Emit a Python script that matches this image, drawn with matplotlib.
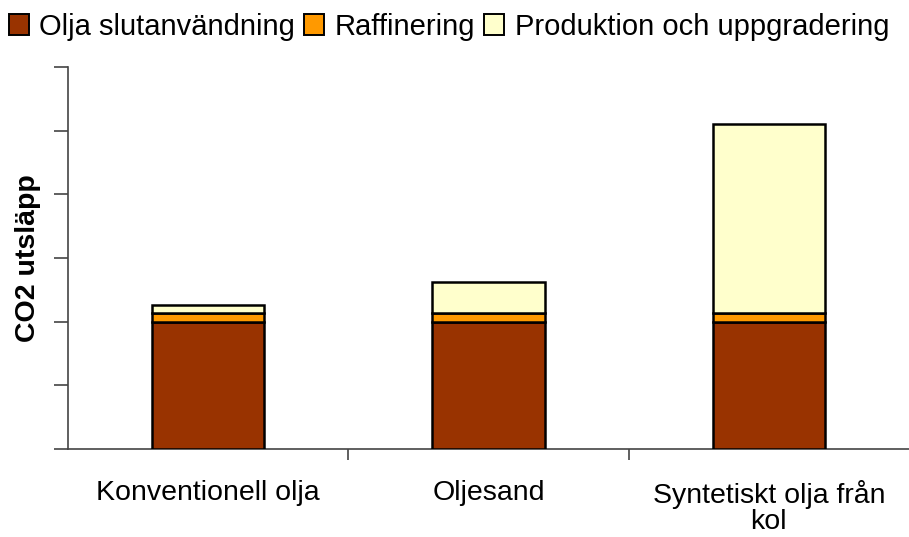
import numpy as np
import matplotlib
matplotlib.use("Agg")
import matplotlib.pyplot as plt
from matplotlib.patches import Patch

plt.rcParams["font.family"] = ["Liberation Sans", "DejaVu Sans"]

categories = ["Konventionell olja", "Oljesand", "Syntetiskt olja från\nkol"]
series_names = ["Olja slutanvändning", "Raffinering", "Produktion och uppgradering"]
slutanvandning = [2.0, 2.0, 2.0]
raffinering = [0.13, 0.13, 0.13]
produktion = [0.13, 0.50, 2.98]
colors = ["#993300", "#FF9900", "#FFFFCC"]

fig = plt.figure(figsize=(9.09, 5.37), dpi=100)
ax = fig.add_axes([68 / 909, 1 - 449 / 537, 1 - 68 / 909, (449 - 67) / 537])

x = np.arange(len(categories))
bottom = np.zeros(len(categories))
for vals, col in zip([slutanvandning, raffinering, produktion], colors):
    ax.bar(x, vals, 0.4, bottom=bottom, color=col, edgecolor="black",
           linewidth=1.8, zorder=3)
    bottom += np.array(vals)

ax.set_xlim(-0.5, 2.5)
ax.set_ylim(0, 6)

# y: ticks utan etiketter
ax.set_yticks(np.arange(0, 7))
ax.set_yticklabels([])
ax.tick_params(axis="y", length=10, width=1.2, color="#444444")

# x: ticks mellan kategorierna, etiketter i mitten
ax.set_xticks([0.5, 1.5])
ax.set_xticklabels([])
ax.set_xticks(x, minor=True)
ax.set_xticklabels(categories, minor=True, fontsize=20.5, linespacing=1.0)
ax.tick_params(axis="x", which="major", length=8, width=1.2, color="#444444")
ax.tick_params(axis="x", which="minor", length=0, pad=22)

for s in ["top", "right"]:
    ax.spines[s].set_visible(False)
for s in ["left", "bottom"]:
    ax.spines[s].set_color("#444444")
    ax.spines[s].set_linewidth(1.2)

ax.set_ylabel("CO2 utsläpp", fontsize=20.5, fontweight="bold", labelpad=6)

handles = [Patch(facecolor=c, edgecolor="black", linewidth=1.4) for c in colors]
fig.legend(handles, series_names, loc="upper left", bbox_to_anchor=(-0.016, 1.02),
           ncol=3, frameon=False, fontsize=21, handlelength=0.7, handleheight=0.7,
           handletextpad=0.35, columnspacing=0.3, borderaxespad=0.4)

fig.savefig("out.png", dpi=100)
